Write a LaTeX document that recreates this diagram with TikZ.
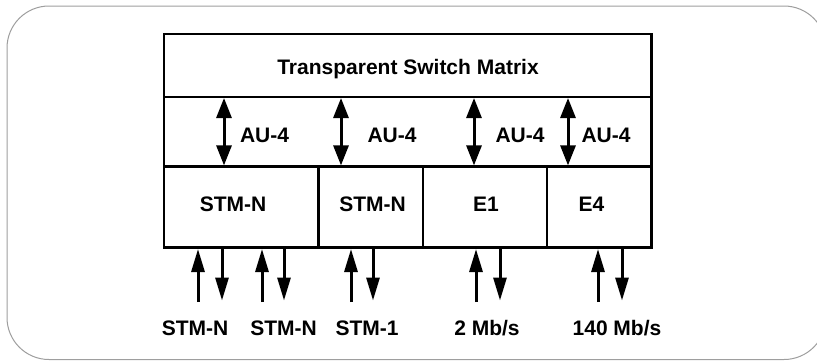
\documentclass[tikz,border=0pt]{standalone}
\usepackage{fontspec}
\setmainfont{Liberation Sans}
\usepackage{tikz}
\usetikzlibrary{positioning,arrows.meta}

\begin{document}
\begin{tikzpicture}[x=1pt,y=-1pt,
	box/.style={draw,line width=2.2pt,outer sep=0pt,inner sep=0pt},
	txt/.style={font=\fontsize{21pt}{25pt}\selectfont\bfseries,inner sep=0pt,anchor=base},
	dbl/.style={line width=3pt,{Triangle[length=20pt,width=15pt]}-{Triangle[length=20pt,width=15pt]}},
	sig/.style={line width=3pt,-{Triangle[length=23pt,width=13pt]}},
	frame/.style={draw=black!38,line width=1pt,rounded corners=42pt}]
\useasboundingbox (0,0) rectangle (817,360);
\clip (0,0) rectangle (817,360);
\draw[frame] (7,6) rectangle (826,359.5);

% rows of the switch
\node(tsm)	[box,minimum width=487.5pt,minimum height=63pt] at (407.75,65.5) {};
\node(au)	[box,minimum width=487.5pt,minimum height=69.5pt,below=0pt of tsm] {};

\node(stmn1)	[box,minimum width=154.5pt,minimum height=81pt,below right=0pt and 0pt of au.south west] {};
\node(stmn2)	[box,minimum width=104.5pt,minimum height=81pt,right=0pt of stmn1] {};
\node(e1)	[box,minimum width=124pt,minimum height=81pt,right=0pt of stmn2] {};
\node(e4)	[box,minimum width=104.5pt,minimum height=81pt,right=0pt of e1] {};

% texts
\node(ttsm)	[txt] at (408,74.5) {Transparent Switch Matrix};
\node(tau1)	[txt] at (264.5,142.5) {AU-4};
\node(tau2)	[txt] at (392,142.5) {AU-4};
\node(tau3)	[txt] at (520,142.5) {AU-4};
\node(tau4)	[txt] at (606,142.5) {AU-4};

\node(tstmn1)	[txt] at (233,211) {STM-N};
\node(tstmn2)	[txt] at (372.5,211) {STM-N};
\node(te1)	[txt] at (486,211) {E1};
\node(te4)	[txt] at (591.5,211) {E4};

\node(lstmn1)	[txt] at (195,335) {STM-N};
\node(lstmn2)	[txt] at (283.5,335) {STM-N};
\node(lstm1)	[txt] at (367,335) {STM-1};
\node(l2)	[txt] at (487,335) {2 Mb/s};
\node(l140)	[txt] at (617,335) {140 Mb/s};

% AU-4 arrows
\coordinate(a1t) at (224,98);	\coordinate(a1b) at (224,165.4);
\coordinate(a2t) at (341,98);	\coordinate(a2b) at (341,165.4);
\coordinate(a3t) at (474,98);	\coordinate(a3b) at (474,165.4);
\coordinate(a4t) at (568,98);	\coordinate(a4b) at (568,165.4);

\draw[dbl](a1t) -- (a1b);
\draw[dbl](a2t) -- (a2b);
\draw[dbl](a3t) -- (a3b);
\draw[dbl](a4t) -- (a4b);

% line arrows
\coordinate(i1t) at (198,249);	\coordinate(i1b) at (198,302);
\coordinate(o1t) at (222,248);	\coordinate(o1b) at (222,300.5);
\coordinate(i2t) at (262,249);	\coordinate(i2b) at (262,302);
\coordinate(o2t) at (284,248);	\coordinate(o2b) at (284,300.5);
\coordinate(i3t) at (351,249);	\coordinate(i3b) at (351,302);
\coordinate(o3t) at (373,248);	\coordinate(o3b) at (373,300.5);
\coordinate(i4t) at (476,249);	\coordinate(i4b) at (476,302);
\coordinate(o4t) at (500,248);	\coordinate(o4b) at (500,300.5);
\coordinate(i5t) at (598,249);	\coordinate(i5b) at (598,302);
\coordinate(o5t) at (622,248);	\coordinate(o5b) at (622,300.5);

\draw[sig](i1b) -- (i1t);
\draw[sig](o1t) -- (o1b);
\draw[sig](i2b) -- (i2t);
\draw[sig](o2t) -- (o2b);
\draw[sig](i3b) -- (i3t);
\draw[sig](o3t) -- (o3b);
\draw[sig](i4b) -- (i4t);
\draw[sig](o4t) -- (o4b);
\draw[sig](i5b) -- (i5t);
\draw[sig](o5t) -- (o5b);
\end{tikzpicture}
\end{document}
